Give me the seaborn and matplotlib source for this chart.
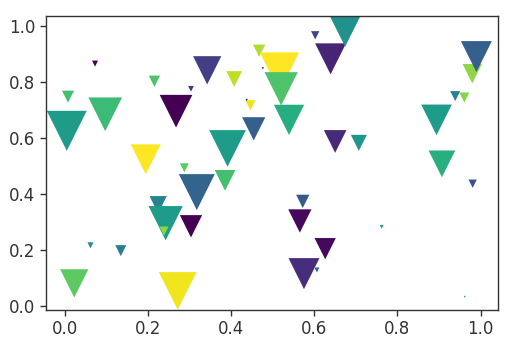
import numpy as np
import pandas as pd
import matplotlib
matplotlib.use("Agg")
import matplotlib.pyplot as plt
import seaborn as sns

x_vals = [0.072, 0.215, 0.007, 0.004, 0.0965, 0.194, 0.342, 0.303, 0.267, 0.407,
          0.446, 0.437, 0.454, 0.391, 0.467, 0.516, 0.476, 0.520, 0.539, 0.639,
          0.674, 0.602, 0.650, 0.707, 0.980, 0.990, 0.939, 0.961, 0.894, 0.907,
          0.981, 0.962, 0.762, 0.572, 0.565, 0.626, 0.575, 0.606, 0.287, 0.317,
          0.385, 0.303, 0.271, 0.224, 0.242, 0.238, 0.134, 0.061, 0.022]
y_vals = [0.866, 0.803, 0.748, 0.626, 0.685, 0.524, 0.842, 0.776, 0.696, 0.811,
          0.717, 0.736, 0.633, 0.563, 0.912, 0.836, 0.849, 0.776, 0.665, 0.883,
          0.983, 0.967, 0.588, 0.583, 0.830, 0.891, 0.750, 0.745, 0.665, 0.508,
          0.437, 0.033, 0.283, 0.374, 0.304, 0.205, 0.116, 0.129, 0.494, 0.407,
          0.449, 0.285, 0.054, 0.362, 0.296, 0.268, 0.198, 0.217, 0.081]
color_vals = [0.00, 0.72, 0.70, 0.55, 0.68, 1.00, 0.18, 0.15, 0.00, 0.90,
              0.97, 0.10, 0.30, 0.55, 0.88, 1.00, 0.15, 0.72, 0.62, 0.10,
              0.50, 0.20, 0.12, 0.52, 0.83, 0.30, 0.45, 0.82, 0.55, 0.63,
              0.25, 0.50, 0.55, 0.28, 0.02, 0.02, 0.13, 0.33, 0.75, 0.32,
              0.70, 0.00, 0.98, 0.45, 0.55, 0.83, 0.42, 0.48, 0.75]
size_vals = [19, 66, 75, 829, 589, 467, 415, 17, 554, 128,
             55, 3, 281, 698, 78, 801, 3, 575, 476, 498,
             521, 36, 267, 133, 193, 498, 52, 52, 488, 370,
             36, 2, 8, 92, 281, 235, 498, 13, 42, 672,
             222, 258, 737, 155, 610, 42, 63, 19, 415]

df = pd.DataFrame({"x": x_vals, "y": y_vals, "c": color_vals, "s": size_vals})

plt.rcParams["font.family"] = ["DejaVu Sans"]
fig = plt.figure(figsize=(5.16, 3.53), dpi=100)
ax = fig.add_axes([46 / 516, 43 / 353, 452 / 516, 294 / 353])

smin, smax = min(size_vals), max(size_vals)
sns.scatterplot(data=df, x="x", y="y", hue="c", size="s",
                palette="viridis", hue_norm=(0, 1),
                sizes=(smin, smax), size_norm=(smin, smax),
                marker="v", linewidth=0, legend=False, ax=ax)

ax.set_xlim(-0.046, 1.042)
ax.set_ylim(-0.014, 1.036)
ax.set_xticks([0.0, 0.2, 0.4, 0.6, 0.8, 1.0])
ax.set_yticks([0.0, 0.2, 0.4, 0.6, 0.8, 1.0])
ax.set_xlabel("")
ax.set_ylabel("")
ax.tick_params(labelsize=12, length=4, width=1, colors="#333333")
for sp in ax.spines.values():
    sp.set_color("#333333")
    sp.set_linewidth(1)

fig.savefig("out.png", dpi=100)
